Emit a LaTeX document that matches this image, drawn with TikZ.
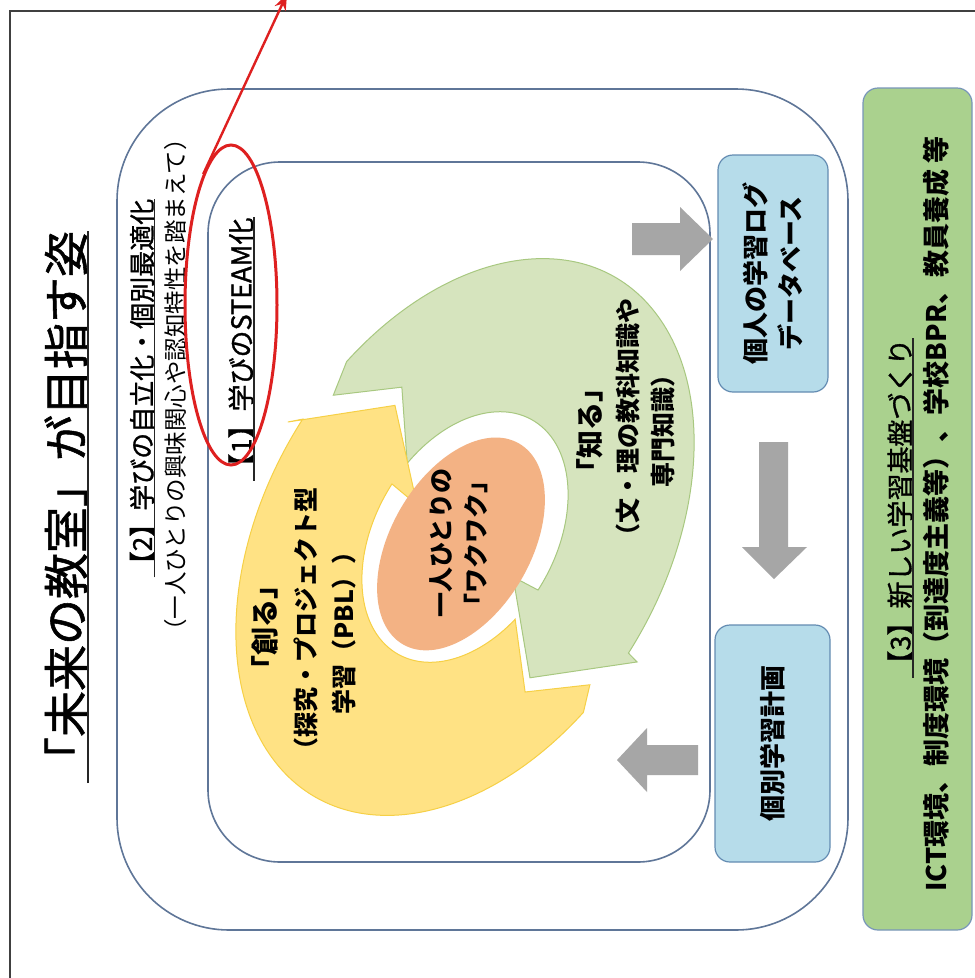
\documentclass[tikz,border=0pt]{standalone}
\usepackage{fontspec}
\newfontfamily\jp{Noto Sans CJK JP}
\newfontfamily\jpm[FakeBold=1.2]{Noto Sans CJK JP}
\usetikzlibrary{arrows.meta,shapes.geometric}
\definecolor{frameblue}{RGB}{95,118,152}
\definecolor{greenfill}{RGB}{214,228,190}
\definecolor{greenline}{RGB}{168,200,128}
\definecolor{yellowfill}{RGB}{255,226,132}
\definecolor{yellowline}{RGB}{246,208,70}
\definecolor{orangefill}{RGB}{243,178,132}
\definecolor{bluefill}{RGB}{182,220,234}
\definecolor{blueline}{RGB}{100,140,178}
\definecolor{boxgreen}{RGB}{170,209,142}
\definecolor{boxgreenline}{RGB}{120,150,185}
\definecolor{arrowgray}{RGB}{166,166,166}
\definecolor{redmark}{RGB}{222,32,32}
\begin{document}
\begin{tikzpicture}[x=1pt,y=-1pt,
  txt/.style={rotate=90, inner sep=0pt, anchor=center, text=black},
  ul/.style={line width=1.6pt, black!85},
  bluebox/.style={draw=blueline, fill=bluefill, line width=1.2pt, rounded corners=15pt, rotate=90, inner sep=0pt, align=center},
  bandtext/.style={txt, font=\jp\bfseries\fontsize{25}{25}\selectfont},
  bandhead/.style={txt, font=\jp\bfseries\fontsize{28}{28}\selectfont},
  grayarrow/.style={fill=arrowgray}]
\clip (0,0) rectangle (975,978);
\fill[white] (0,0) rectangle (975,978);
% outer frame
\draw[line width=1.4pt, black!75] (10,990) -- (10,11) -- (990,11);
% rounded containers
\draw[frameblue, line width=1.6pt, rounded corners=112pt] (117,89) rectangle (848,930);
\draw[frameblue, line width=1.6pt, rounded corners=72pt] (208,162) rectangle (710,862);
% circular arrows
\begin{scope}[shift={(465,537)}, rotate=60]
  \filldraw[fill=greenfill, draw=greenline, line width=1pt]
    (-78.4:283.2 and 188.8) -- (-72:300 and 200)
    arc[start angle=-72, end angle=93.6, x radius=300, y radius=200]
    -- (94:318 and 212) -- (115.2:210 and 140) -- (96.5:93 and 62) -- (94:135 and 90)
    arc[start angle=94, end angle=-75, x radius=135, y radius=90]
    -- (-63.2:217.8 and 145.2) -- cycle;
  \filldraw[fill=yellowfill, draw=yellowline, line width=1pt]
    (103.5:280.8 and 187.2) -- (108:300 and 200)
    arc[start angle=108, end angle=274, x radius=300, y radius=200]
    -- (272:316.5 and 211) -- (292.6:205.5 and 137) -- (272.5:86.4 and 57.6) -- (274:135 and 90)
    arc[start angle=274, end angle=110, x radius=135, y radius=90]
    -- (118.2:220.5 and 147) -- cycle;
  \fill[orangefill] (-8,0) ellipse[x radius=116, y radius=70];
\end{scope}
% title and headings
\node[txt, font=\jpm\fontsize{46}{46}\selectfont] (title) at (66,507) {「未来の教室」が目指す姿};
\draw[ul, line width=2.2pt] (title.south west) -- (title.south east);
\node[txt, font=\jpm\fontsize{26}{26}\selectfont] (h2) at (142,388) {【2】学びの自立化・個別最適化};
\draw[ul] (h2.south west) -- (h2.south east);
\node[txt, font=\jp\fontsize{23.5}{24}\selectfont] (h2b) at (176,385) {（一人ひとりの興味関心や認知特性を踏まえて）};
\node[txt, font=\jpm\fontsize{27}{27}\selectfont] (h1) at (241,349) {【1】学びのSTEAM化};
\draw[ul] (h1.south west) -- (h1.south east);
% band texts
\node[bandhead] (y1) at (265,627) {「創る」};
\node[bandtext] (y2) at (306,625) {（探究・プロジェクト型};
\node[bandtext] (y3) at (344,627) {学習（PBL））};
\node[bandhead] (g1) at (590,430) {「知る」};
\node[bandtext] (g2) at (628,423) {（文・理の教科知識や};
\node[bandtext] (g3) at (663,425) {専門知識）};
\node[txt, font=\jp\bfseries\fontsize{25}{25}\selectfont] (o1) at (441,543) {一人ひとりの};
\node[txt, font=\jp\bfseries\fontsize{25}{25}\selectfont] (o2) at (476,543) {「ワクワク」};
% gray arrows
\fill[grayarrow] (632,223) -- (680,223) -- (680,207) -- (713,239) -- (680,271) -- (680,255) -- (632,255) -- cycle;
\fill[grayarrow] (759,442) -- (788,442) -- (788,547) -- (807,547) -- (774,579) -- (742,547) -- (759,547) -- cycle;
\fill[grayarrow] (698,745) -- (698,775) -- (647,775) -- (647,792) -- (617,760) -- (647,728) -- (647,745) -- cycle;
% blue boxes
\node[bluebox, minimum width=237pt, minimum height=110pt, font=\jp\bfseries\fontsize{26}{35}\selectfont] (logbox) at (773,273.5) {個人の学習ログ\\データベース};
\node[bluebox, minimum width=237pt, minimum height=115pt, font=\jp\bfseries\fontsize{26}{35}\selectfont] (planbox) at (772.5,743.5) {個別学習計画};
% green foundation box
\node[draw=boxgreenline, fill=boxgreen, line width=1.2pt, rounded corners=15pt, rotate=90, minimum width=842pt, minimum height=109pt, inner sep=0pt] (basebox) at (917.5,509) {};
\node[txt, font=\jpm\fontsize{27}{27}\selectfont] (b1) at (900,508) {【3】新しい学習基盤づくり};
\draw[ul] (b1.south west) -- (b1.south east);
\node[txt, font=\jp\bfseries\fontsize{27}{27}\selectfont] (b2) at (936,514) {ICT環境、制度環境（到達度主義等）、学校BPR、教員養成 等};
% red mark
\node[draw=redmark, ellipse, line width=3pt, minimum width=92pt, minimum height=320pt, inner sep=0pt] (mark) at (231,305) {};
\coordinate (markend) at (287,-6);
\draw[redmark, line width=2.4pt, -{Stealth[length=16pt, width=12pt]}] (mark.102) -- (markend);
\end{tikzpicture}
\end{document}
